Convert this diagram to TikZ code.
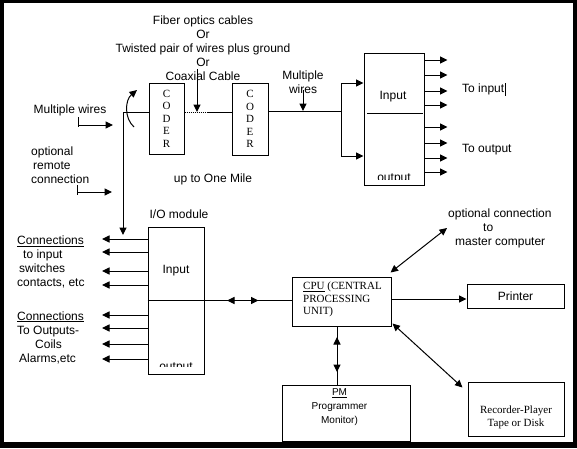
\documentclass[tikz,border=0pt]{standalone}
\usepackage{fontspec}
\setmainfont{Liberation Serif}
\setsansfont{Liberation Sans}
\usetikzlibrary{arrows.meta}
\tikzstyle{block}=[draw, line width=1pt, inner sep=0pt]
\tikzstyle{wire}=[line width=1pt]
\tikzstyle{feed}=[wire, -{Triangle[length=7.5pt,width=7pt]}]
\tikzstyle{dfeed}=[wire, {Triangle[length=7.5pt,width=7pt]}-{Triangle[length=7.5pt,width=7pt]}]
\tikzstyle{words}=[font=\sffamily\fontsize{12}{14}\selectfont, inner sep=0pt]
\tikzstyle{roman}=[font=\rmfamily\fontsize{11}{12.5}\selectfont, inner sep=0pt]

\begin{document}
\begin{tikzpicture}[x=1pt, y=-1pt]
          \fill[black] (0,0) rectangle (577,448);
          \fill[white] (4,3) rectangle (573,442);
          \useasboundingbox (0,0) rectangle (577,448);
          % boxes
          \node[block, roman, align=center, minimum width=35pt, minimum height=71pt]
            (coderA) at (166.5,118.5) {C\\O\\D\\E\\R};
          \node[block, roman, align=center, minimum width=36pt, minimum height=72pt]
            (coderB) at (250,119) {C\\O\\D\\E\\R};
          \node[block, minimum width=60pt, minimum height=132pt] (unit) at (394,119) {};
          \node[block, minimum width=56pt, minimum height=147pt] (io) at (176,300.5) {};
          \node[block, minimum width=99pt, minimum height=49pt] (cpu) at (341.5,301.5) {};
          \node[block, words, minimum width=97pt, minimum height=24pt] (printer) at (515.5,296) {Printer};
          \node[block, minimum width=96pt, minimum height=54pt] (rec) at (516,409) {};
          \node[block, minimum width=128pt, minimum height=56pt] (pm) at (346,413) {};
          % texts
          \node[words, align=center] (cable) at (203,48)
            {Fiber optics cables\\Or\hspace{12pt}\\Twisted pair of wires plus ground\\Or\hspace{12pt}\\Coaxial Cable};
          \node[words] (wires) at (70,110) {Multiple wires};
          \node[words, align=left, anchor=west] (remote) at (31,165)
            {optional\\\hspace{2pt}remote\\connection};
          \node[words] (mile) at (213,179) {up to One Mile};
          \node[words, align=center] (wiresB) at (303,82) {Multiple\\wires};
          \node[words] (unitIn) at (393,97) {Input};
          \node[words, anchor=west] (toIn) at (462,89) {To input\hspace{0.5pt}\rule[-3pt]{1.6pt}{13pt}};
          \node[words, anchor=west] (toOut) at (462,150) {To output};
          \node[words] (ioName) at (179,214) {I/O module};
          \node[words] (ioIn) at (176,271) {Input};
          \node[words, align=left, anchor=west] (conIn) at (17,262)
            {\underline{Connections}\\\hspace{6pt}to input\\\hspace{2pt}switches\\contacts, etc};
          \node[words, align=left, anchor=west] (conOut) at (17,337.5)
            {\underline{Connections}\\To Outputs-\\\hspace{18pt}Coils\\\hspace{2pt}Alarms,etc};
          \node[words, align=left, anchor=west] (master) at (448,228)
            {optional connection\\\hspace{35pt}to\\\hspace{7pt}master computer};
          \node[roman, align=left, anchor=west] (cpuTxt) at (303,299.5)
            {\underline{CPU} (CENTRAL\\PROCESSING\\UNIT)};
          \node[roman, align=center] (recTxt) at (516,417.5) {Recorder-Player\\Tape or Disk};
          \node[align=center, inner sep=0pt, font=\sffamily\fontsize{10}{14}\selectfont]
            (pmTxt) at (339.5,407) {\underline{PM}\\Programmer\\Monitor)};
          % half hidden labels
          \begin{scope}
            \clip (unit.north west) rectangle ([yshift=6.5pt]unit.south east);
            \node[words, anchor=base] at ([yshift=4.5pt]unit.south) {output};
          \end{scope}
          \begin{scope}
            \clip (io.north west) rectangle ([yshift=7.7pt]io.south east);
            \node[words, anchor=base] at ([yshift=4.5pt]io.south) {output};
          \end{scope}
          \draw[wire] (367,113) -- (423,113);
          % remote side
          \coordinate (bus) at (123,112);
          \coordinate (busEnd) at (123,235);
          \draw[wire] (bus) -- (bus -| coderA.west);
          \draw[feed] (bus) -- (busEnd);
          \draw[feed] (134,127) .. controls (124,118) and (125,100) .. (137,90);
          \draw[wire] (78,117) -- (78,127);
          \draw[feed] (78,125) -- (113,125);
          \draw[wire] (77,185) -- (77,195);
          \draw[feed] (77,192) -- (112,192);
          % the cable
          \coordinate (tap) at (197,112);
          \draw[wire, densely dotted, line width=0.7pt] (coderA.east |- tap) -- (207,112);
          \draw[wire] (207,112) -- (coderB.west |- tap);
          \draw[feed] (197,69) -- (tap);
          \coordinate (fork) at (341,111);
          \draw[wire] (coderB.east |- fork) -- (fork);
          \draw[feed] (303,90) -- (303,111);
          \draw[wire] (341,83) -- (341,156);
          \draw[feed] (341,83) -- (unit.west |- 0,83);
          \draw[feed] (341,156) -- (unit.west |- 0,156);
          \foreach \y in {60,75,91,105,127,143,158,172}
            \draw[feed] (unit.east |- 0,\y) -- ++(23,0);
          % plc side
          \foreach \y in {239,252,271,285,315,328,344,359}
            \draw[feed] (io.west |- 0,\y) -- (102,\y);
          \draw[wire] (io.west) -- (io.east) -- (io.east -| cpu.west);
          \coordinate (bidi) at (243,300.5);
          \draw[feed] (bidi) -- ++(-16,0);
          \draw[feed] (bidi) -- ++(15.5,0);
          \draw[dfeed] ([shift={(-1,-4)}]cpu.north east) -- (447,228);
          \draw[feed] (cpu.east |- 0,299) -- (printer.west |- 0,299);
          \draw[dfeed] ([shift={(1,-3)}]cpu.south east) -- ([shift={(-5,6)}]rec.north west);
          \coordinate (pmLink) at (337,354.5);
          \draw[wire] (pmLink |- cpu.south) -- (pmLink |- pm.north);
          \draw[feed] (pmLink) -- ++(0,-17.5);
          \draw[feed] (pmLink) -- ++(0,17.5);
        \end{tikzpicture}
\end{document}
